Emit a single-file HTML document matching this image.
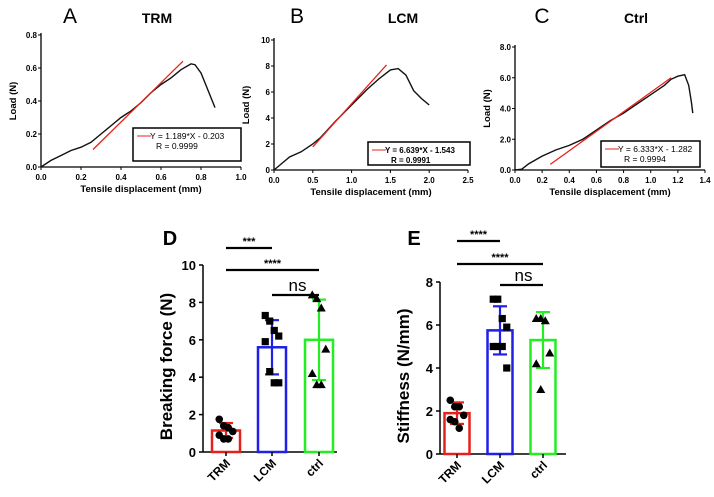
<!DOCTYPE html>
<html><head><meta charset="utf-8"><style>
body{margin:0;background:#fff;}
svg{display:block;font-family:"Liberation Sans",Arial,sans-serif;}
</style></head><body>
<svg id="fig" width="714" height="497" viewBox="0 0 714 497"></svg>
<script>
// ---- Data ----
const aX=[0,0.05,0.1,0.15,0.2,0.25,0.3,0.35,0.4,0.45,0.5,0.55,0.6,0.65,0.7,0.75,0.77,0.8,0.83,0.87];
const aY=[0,0.04,0.07,0.1,0.12,0.15,0.2,0.25,0.3,0.34,0.39,0.45,0.5,0.54,0.59,0.625,0.62,0.57,0.48,0.36];
const bX=[0,0.1,0.2,0.35,0.5,0.6,0.8,1.0,1.2,1.35,1.5,1.6,1.7,1.8,1.9,2.0];
const bY=[0,0.5,1.0,1.4,2.0,2.5,3.8,5.0,6.2,7.0,7.7,7.8,7.3,6.1,5.5,5.0];
const cX=[0,0.05,0.1,0.2,0.3,0.4,0.5,0.6,0.7,0.8,0.9,1.0,1.1,1.15,1.2,1.25,1.28,1.3,1.31];
const cY=[0,0.05,0.4,0.9,1.3,1.6,2.0,2.6,3.2,3.7,4.3,4.9,5.5,5.9,6.1,6.2,5.5,4.4,3.7];
const fitSlope=[1.189,6.639,6.333];
const fitIntercept=[-0.203,-1.543,-1.282];
const fitRange=[[0.26,0.71],[0.5,1.45],[0.26,1.15]];
const categories=["TRM","LCM","ctrl"];
const forceMean=[1.15,5.6,6.0];
const forceSD=[0.4,1.45,2.15];
const forcePts=[[1.75,1.4,1.3,1.1,0.9,0.7,0.7],[7.3,7.0,6.5,6.2,5.9,4.3,3.7,3.7],[8.4,8.2,7.7,5.5,4.2,3.6,3.6]];
const stiffMean=[1.9,5.75,5.3];
const stiffSD=[0.5,1.12,1.3];
const stiffPts=[[2.5,2.2,2.2,1.8,1.6,1.5,1.2],[7.2,7.2,6.3,5.9,5.0,5.0,5.0,4.0],[6.3,6.3,6.2,4.7,4.2,3.0]];

const NS="http://www.w3.org/2000/svg";
const svg=document.getElementById('fig');
function el(t,a,p){const e=document.createElementNS(NS,t);for(const k in a)e.setAttribute(k,a[k]);(p||svg).appendChild(e);return e;}
function txt(s,a,p){const e=el('text',a,p);e.textContent=s;return e;}

function linePanel(o){
  const g=el('g',{});
  
  
  const sx=v=>o.x0+(v-0)/(o.xmax)*(o.x1-o.x0);
  const sy=v=>o.y0-(v)/(o.ymax)*(o.y0-o.y1);
  el('line',{x1:o.x0,y1:o.y0,x2:o.x0,y2:o.y1-2,stroke:'#000','stroke-width':1.3},g);
  el('line',{x1:o.x0,y1:o.y0,x2:o.x1,y2:o.y0,stroke:'#000','stroke-width':1.3},g);
  o.yt.forEach(v=>{const y=sy(v);el('line',{x1:o.x0-3,y1:y,x2:o.x0,y2:y,stroke:'#000'},g);
    const t=txt(o.yfmt(v),{x:o.x0-4,y:y+3,'font-size':8,'font-weight':'bold','text-anchor':'end'},g);
    });
  o.xt.forEach(v=>{const x=sx(v);el('line',{x1:x,y1:o.y0,x2:x,y2:o.y0+3,stroke:'#000'},g);
    const t=txt(o.xfmt(v),{x:x,y:o.y0+13,'font-size':8,'font-weight':'bold','text-anchor':'middle'},g);
    });
  const xt=txt('Tensile displacement (mm)',{x:(o.x0+o.x1)/2,y:o.y0+25,'font-size':9.5,'font-weight':'bold','text-anchor':'middle'},g);
  
  const yt=txt('Load (N)',{x:0,y:0,'font-size':9.5,'font-weight':'bold','text-anchor':'middle',transform:`translate(${o.x0-25},${(o.y0+o.y1)/2}) rotate(-90)`},g);
  
  const pts=o.xs.map((v,i)=>sx(v)+','+sy(o.ys[i])).join(' ');
  const c=el('polyline',{points:pts,fill:'none',stroke:'#111','stroke-width':1.4},g);
  
  const i=o.idx, r=fitRange[i];
  const f=el('line',{x1:sx(r[0]),y1:sy(fitSlope[i]*r[0]+fitIntercept[i]),x2:sx(r[1]),y2:sy(fitSlope[i]*r[1]+fitIntercept[i]),stroke:'#e8201c','stroke-width':1.3},g);
  
  const L=o.leg;
  const lg=el('g',{},g);
  
  el('rect',{x:L[0],y:L[1],width:L[2],height:L[3],fill:'#fff',stroke:'#000','stroke-width':1.5},lg);
  el('line',{x1:L[0]+4,y1:L[1]+8,x2:L[0]+18,y2:L[1]+8,stroke:'#e8201c','stroke-width':1},lg);
  const sg=fitIntercept[i]<0?' - ':' + ';
  txt('Y = '+fitSlope[i].toFixed(3)+'*X'+sg+Math.abs(fitIntercept[i]).toFixed(3),{x:L[0]+17,y:L[1]+11,'font-size':o.fs,'font-weight':o.bold?'bold':'normal'},lg);
  txt('R = '+o.r,{x:L[0]+23,y:L[1]+21,'font-size':o.fs,'font-weight':o.bold?'bold':'normal'},lg);
}
linePanel({name:'panel-a-trm',idx:0,x0:41,x1:241,xmax:1.0,y0:167,y1:35,ymax:0.8,xs:aX,ys:aY,fs:8.5,
  yt:[0,0.2,0.4,0.6,0.8],yfmt:v=>v.toFixed(1),xt:[0,0.2,0.4,0.6,0.8,1.0],xfmt:v=>v.toFixed(1),leg:[133,128,108,33],r:'0.9999',bold:false});
linePanel({name:'panel-b-lcm',idx:1,x0:274,x1:468,xmax:2.5,y0:170,y1:40,ymax:10,xs:bX,ys:bY,fs:8,
  yt:[0,2,4,6,8,10],yfmt:v=>String(v),xt:[0,0.5,1,1.5,2,2.5],xfmt:v=>v.toFixed(1),leg:[368,142,102,23],r:'0.9991',bold:true});
linePanel({name:'panel-c-ctrl',idx:2,x0:515,x1:705,xmax:1.4,y0:170,y1:47,ymax:8,xs:cX,ys:cY,fs:8.5,
  yt:[0,2,4,6,8],yfmt:v=>v.toFixed(1),xt:[0,0.2,0.4,0.6,0.8,1.0,1.2,1.4],xfmt:v=>v.toFixed(1),leg:[601,141,99,26],r:'0.9994',bold:false});

[['A',70,23,21,'panel-a-letter'],['TRM',157,23,14,'panel-a-title'],['B',297,23,21,'panel-b-letter'],['LCM',403,23,14,'panel-b-title'],['C',542,23,21,'panel-c-letter'],['Ctrl',636,23,14,'panel-c-title'],['D',170,245,20,'panel-d-letter'],['E',414,245,20,'panel-e-letter']].forEach(a=>{
  const t=txt(a[0],{x:a[1],y:a[2],'font-size':a[3],'font-weight':(a[0].length>1||a[0]==='D'||a[0]==='E')?'bold':'normal','text-anchor':'middle'});
  
});

const colors=['#e8201c','#1f1fe8','#22ee22'];
function barPanel(o){
  const g=el('g',{});
  
  
  const sy=v=>o.y0-v/o.ymax*(o.y0-o.y1);
  el('line',{x1:o.x0,y1:o.y0,x2:o.x0,y2:o.y1,stroke:'#000','stroke-width':1.5},g);
  el('line',{x1:o.x0,y1:o.y0,x2:o.xe,y2:o.y0,stroke:'#000','stroke-width':1.5},g);
  o.yt.forEach(v=>{const y=sy(v);el('line',{x1:o.x0-4,y1:y,x2:o.x0,y2:y,stroke:'#000','stroke-width':1.5},g);
    const t=txt(String(v),{x:o.x0-7,y:y+5,'font-size':13,'font-weight':'bold','text-anchor':'end'},g);
    });
  const yt=txt(o.title,{x:0,y:0,'font-size':17,'font-weight':'bold','text-anchor':'middle',transform:`translate(${o.x0-31},${(o.y0+o.y1)/2+8}) rotate(-90)`},g);
  
  categories.forEach((c,i)=>{
    const cx=o.cx[i], w=o.bw, m=o.mean[i], s=o.sd[i];
    const b=el('rect',{x:cx-w/2,y:sy(m),width:w,height:o.y0-sy(m),fill:'#fff',stroke:colors[i],'stroke-width':2.5},g);
    
    const e=el('g',{stroke:colors[i],'stroke-width':2.2},g);
    
    el('line',{x1:cx,y1:sy(m+s),x2:cx,y2:sy(m-s)},e);
    el('line',{x1:cx-7,y1:sy(m+s),x2:cx+7,y2:sy(m+s)},e);
    el('line',{x1:cx-7,y1:sy(m-s),x2:cx+7,y2:sy(m-s)},e);
    o.pts[i].forEach((v,j)=>{
      const dx=((j%4)-1.5)*4.5, y=sy(v);
      let p;
      if(i===0)p=el('circle',{cx:cx+dx,cy:y,r:3.8,fill:'#000'},g);
      else if(i===1)p=el('rect',{x:cx+dx-3.6,y:y-3.6,width:7.2,height:7.2,fill:'#000'},g);
      else p=el('polygon',{points:`${cx+dx},${y-4.5} ${cx+dx-4.5},${y+3.5} ${cx+dx+4.5},${y+3.5}`,fill:'#000'},g);
      
    });
    el('line',{x1:cx,y1:o.y0,x2:cx,y2:o.y0+4,stroke:'#000','stroke-width':1.5},g);
    const t=txt(c,{x:0,y:0,'font-size':12,'font-weight':'bold','text-anchor':'end',transform:`translate(${cx+5},${o.y0+12}) rotate(-45)`},g);
    
  });
  o.sig.forEach(s=>{
    const sg=el('g',{},g);
    
    el('line',{x1:o.cx[s[0]],y1:s[2],x2:o.cx[s[1]],y2:s[2],stroke:'#000','stroke-width':2.2},sg);
    const ns=s[3]==='ns';
    txt(s[3],{x:(o.cx[s[0]]+o.cx[s[1]])/2+(ns?2:0),y:s[2]-(ns?4:3),'font-size':ns?17:11,'font-weight':ns?'normal':'bold','text-anchor':'middle'},sg);
  });
}
barPanel({name:'panel-d-breaking-force',x0:203,xe:337,y0:452,y1:265,ymax:10,yt:[0,2,4,6,8,10],cx:[226,272,319],bw:28,
  mean:forceMean,sd:forceSD,pts:forcePts,title:'Breaking force (N)',sig:[[0,1,248,'***'],[0,2,270,'****'],[1,2,295,'ns']]});
barPanel({name:'panel-e-stiffness',x0:440,xe:566,y0:454,y1:282,ymax:8,yt:[0,2,4,6,8],cx:[457,500,543],bw:25,
  mean:stiffMean,sd:stiffSD,pts:stiffPts,title:'Stiffness (N/mm)',sig:[[0,1,241,'****'],[0,2,264,'****'],[1,2,285,'ns']]});
</script>
</body></html>
